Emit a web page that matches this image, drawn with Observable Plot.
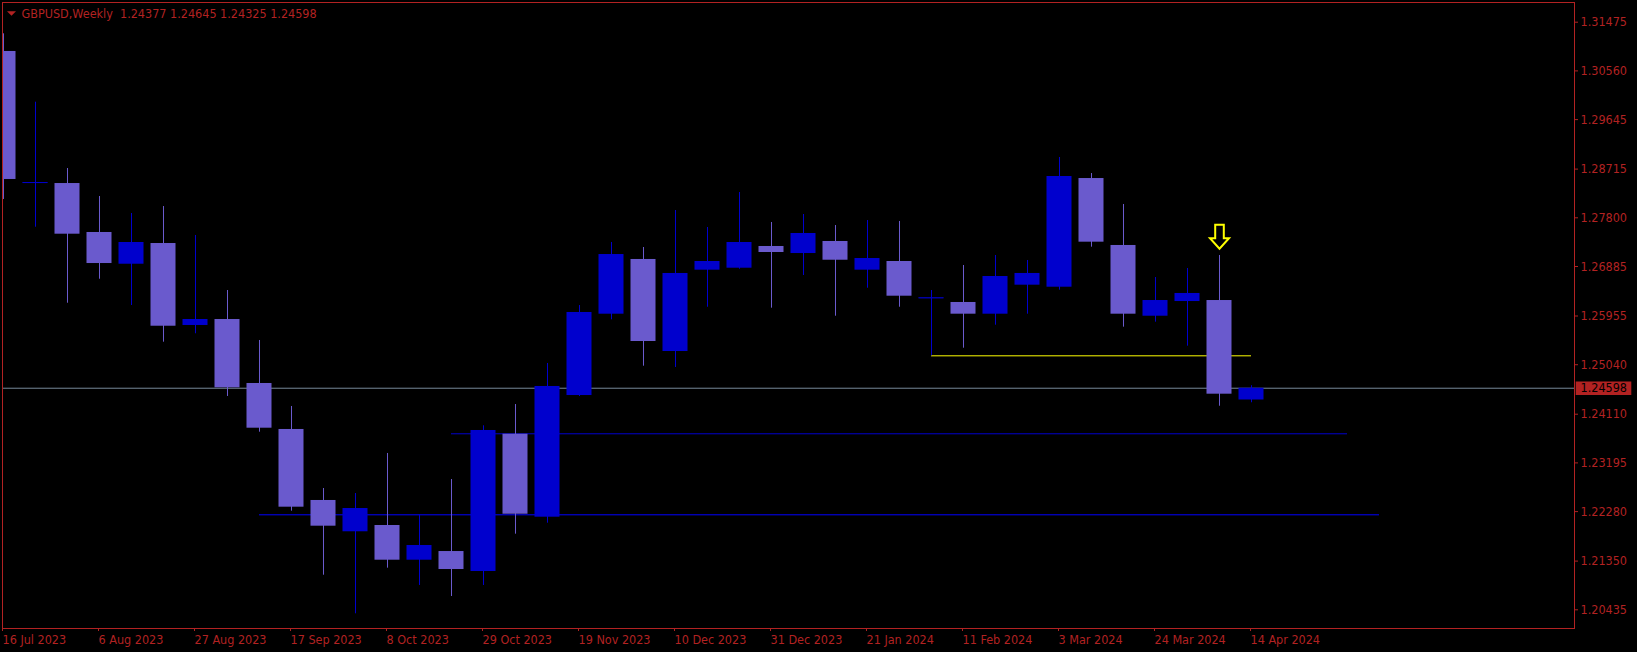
<!DOCTYPE html>
<html><head><meta charset="utf-8">
<script src="https://cdn.jsdelivr.net/npm/d3@7"></script>
<script src="https://cdn.jsdelivr.net/npm/@observablehq/plot@0.6"></script>
<style>
html,body{margin:0;padding:0;background:#000;}
#chart{width:1637px;height:652px;overflow:hidden;}
</style></head><body><div id="chart"></div>
<script>
// ---- data ----
const symbolName = "GBPUSD";
const timeframe = "Weekly";
const weekStarts = [
  "2023-07-16","2023-07-23","2023-07-30","2023-08-06","2023-08-13","2023-08-20","2023-08-27","2023-09-03",
  "2023-09-10","2023-09-17","2023-09-24","2023-10-01","2023-10-08","2023-10-15","2023-10-22","2023-10-29",
  "2023-11-05","2023-11-12","2023-11-19","2023-11-26","2023-12-03","2023-12-10","2023-12-17","2023-12-24",
  "2023-12-31","2024-01-07","2024-01-14","2024-01-21","2024-01-28","2024-02-04","2024-02-11","2024-02-18",
  "2024-02-25","2024-03-03","2024-03-10","2024-03-17","2024-03-24","2024-03-31","2024-04-07","2024-04-14"
];
const openPrices = [
  1.30925,1.28452,1.28444,1.27524,1.26928,1.27317,1.25777,1.25889,
  1.24687,1.23823,1.22489,1.21901,1.22019,1.21367,1.21530,1.21155,
  1.23734,1.22175,1.24461,1.25989,1.27017,1.25288,1.26816,1.26853,
  1.27261,1.27129,1.27355,1.26816,1.26979,1.26285,1.26209,1.25989,
  1.26534,1.26496,1.28538,1.27280,1.25951,1.26227,1.26246,1.24377
];
const highPrices = [
  1.31257,1.29972,1.28726,1.28200,1.27881,1.28012,1.27468,1.26434,
  1.25495,1.24255,1.22714,1.22620,1.23372,1.22220,1.22883,1.23892,
  1.24292,1.25063,1.26152,1.27336,1.27242,1.27937,1.27618,1.28275,
  1.27712,1.27862,1.27655,1.27749,1.27731,1.26434,1.26904,1.27092,
  1.26998,1.28933,1.28632,1.28050,1.26678,1.26848,1.27092,1.24645
];
const lowPrices = [
  1.28144,1.27623,1.26195,1.26646,1.26152,1.25463,1.25621,1.24443,
  1.23772,1.22288,1.21085,1.20360,1.21217,1.20892,1.20685,1.20892,
  1.21856,1.22062,1.24443,1.25884,1.25012,1.24988,1.26120,1.26834,
  1.26102,1.26716,1.25951,1.26477,1.26120,1.25207,1.25350,1.25782,
  1.25989,1.26440,1.27248,1.25745,1.25839,1.25388,1.24260,1.24325
];
const closePrices = [
  1.28520,1.28462,1.27492,1.26941,1.27336,1.25763,1.25889,1.24606,
  1.23847,1.22363,1.22006,1.22338,1.21367,1.21643,1.21192,1.23804,
  1.22231,1.24631,1.26021,1.27110,1.25476,1.26754,1.26979,1.27336,
  1.27148,1.27505,1.27003,1.27035,1.26327,1.26295,1.25989,1.26697,
  1.26754,1.28576,1.27342,1.25989,1.26246,1.26378,1.24486,1.24598
];
// price axis tick labels (right)
const yTickValues = [1.31475,1.30560,1.29645,1.28715,1.27800,1.26885,1.25955,1.25040,1.24110,1.23195,1.22280,1.21350,1.20435];
// time axis tick labels (bottom)
const xTickLabels = ["16 Jul 2023","6 Aug 2023","27 Aug 2023","17 Sep 2023","8 Oct 2023","29 Oct 2023","19 Nov 2023",
  "10 Dec 2023","31 Dec 2023","21 Jan 2024","11 Feb 2024","3 Mar 2024","24 Mar 2024","14 Apr 2024"];
// horizontal levels drawn on the chart
const supportPrice = 1.25207, supportFrom = "2024-02-04", supportTo = "2024-04-14";
const level1Price = 1.23742, level1From = "2023-10-22", level1To = "2024-05-05";
const level2Price = 1.22220, level2From = "2023-09-10", level2To = "2024-05-12";
// sell-signal arrow candle
const signalWeek = "2024-04-07";

// ---- build ----
const parseDate = d3.utcParse("%Y-%m-%d");
const parseLabel = d3.utcParse("%d %b %Y");
const WEEK = 7 * 864e5;
const candles = weekStarts.map((w, i) => ({
  date: parseDate(w), open: openPrices[i], high: highPrices[i], low: lowPrices[i], close: closePrices[i]
}));
const up = candles.filter(d => d.close >= d.open);
const down = candles.filter(d => d.close < d.open);
const doji = candles.filter(d => Math.abs(d.close - d.open) < 0.0002);
const last = candles[candles.length - 1];
const xTicks = xTickLabels.map(parseLabel);

const W = 1637, H = 652, mL = 2, mT = 2, mR = 63, mB = 24;
const pxPerWeek = 32;
const plotW = W - mL - mR;
const x0 = +candles[0].date - WEEK / pxPerWeek; // first candle 1px inside frame
const x1 = x0 + plotW / pxPerWeek * WEEK;
const HALF = 12.5 / pxPerWeek * WEEK;

const UP = "#0000CD", DOWN = "#6A5ACD", RED = "#B22222";
const FONT = "'DejaVu Sans Condensed', 'DejaVu Sans', sans-serif";

const triSymbol = {draw(ctx) { ctx.moveTo(-4.5, -2); ctx.lineTo(4.5, -2); ctx.lineTo(0, 2.5); ctx.closePath(); }};
const arrowSymbol = {draw(ctx) {
  ctx.moveTo(-4.3, -12); ctx.lineTo(4.3, -12); ctx.lineTo(4.3, 1.5); ctx.lineTo(9.5, 1.5);
  ctx.lineTo(0, 12); ctx.lineTo(-9.5, 1.5); ctx.lineTo(-4.3, 1.5); ctx.closePath();
}};
const boxSymbol = {draw(ctx) { ctx.rect(-27.8, -6.7, 55.6, 13.4); }};

const bodyOpts = (fill) => ({
  x1: d => new Date(+d.date - HALF), x2: d => new Date(+d.date + HALF),
  y1: "open", y2: "close", fill, clip: true
});
const seg = (price, from, to, stroke) => Plot.ruleY([price], {
  y: d => d, x1: () => parseDate(from), x2: () => parseDate(to), stroke, strokeWidth: 1, clip: true
});

const title = `${symbolName},${timeframe}  ${last.open.toFixed(5)} ${last.high.toFixed(5)} ${last.low.toFixed(5)} ${last.close.toFixed(5)}`;

const chart = Plot.plot({
  width: W, height: H,
  marginLeft: mL, marginTop: mT, marginRight: mR, marginBottom: mB,
  style: {background: "#000", color: RED, fontFamily: FONT, fontSize: "12.5px"},
  x: {type: "utc", domain: [new Date(x0), new Date(x1)]},
  y: {domain: [1.200838, 1.318451]},
  marks: [
    Plot.ruleY([last.close], {stroke: "#778899"}),
    seg(supportPrice, supportFrom, supportTo, "#FFFF00"),
    seg(level1Price, level1From, level1To, "#0000CD"),
    seg(level2Price, level2From, level2To, "#0000FF"),
    Plot.ruleX(down, {x: "date", y1: "low", y2: "high", stroke: DOWN, clip: true}),
    Plot.ruleX(up, {x: "date", y1: "low", y2: "high", stroke: UP, clip: true}),
    Plot.rect(down, bodyOpts(DOWN)),
    Plot.rect(up, bodyOpts(UP)),
    Plot.ruleY(doji, {y: "close", x1: d => new Date(+d.date - HALF), x2: d => new Date(+d.date + HALF),
      stroke: d => d.close >= d.open ? UP : DOWN, clip: true}),
    Plot.dot(candles.filter(d => +d.date === +parseDate(signalWeek)), {
      x: "date", y: "high", dy: -18.7, symbol: arrowSymbol, fill: "#000", stroke: "#FFFF00", strokeWidth: 2
    }),
    Plot.axisY(yTickValues, {anchor: "right", tickSize: 3, tickPadding: 3, tickFormat: d => d.toFixed(5), label: null}),
    Plot.axisX(xTicks, {anchor: "bottom", tickSize: 3, tickPadding: 4, tickFormat: d3.utcFormat("%-d %b %Y"),
      textAnchor: "start", dx: -1, label: null}),
    Plot.dot([last.close], {y: d => d, frameAnchor: "right", dx: 29, symbol: boxSymbol, fill: RED, stroke: null}),
    Plot.text([last.close], {y: d => d, frameAnchor: "right", dx: 6, textAnchor: "start",
      text: d => d.toFixed(5), fill: "#000"}),
    Plot.dot([0], {frameAnchor: "top-left", dx: 9, dy: 10.7, symbol: triSymbol, fill: RED, stroke: null}),
    Plot.text([title], {frameAnchor: "top-left", dx: 19, dy: 6.5, textAnchor: "start", lineAnchor: "top",
      text: d => d, fill: RED}),
    Plot.frame({stroke: RED})
  ]
});
document.getElementById("chart").append(chart);
</script>
</body></html>
